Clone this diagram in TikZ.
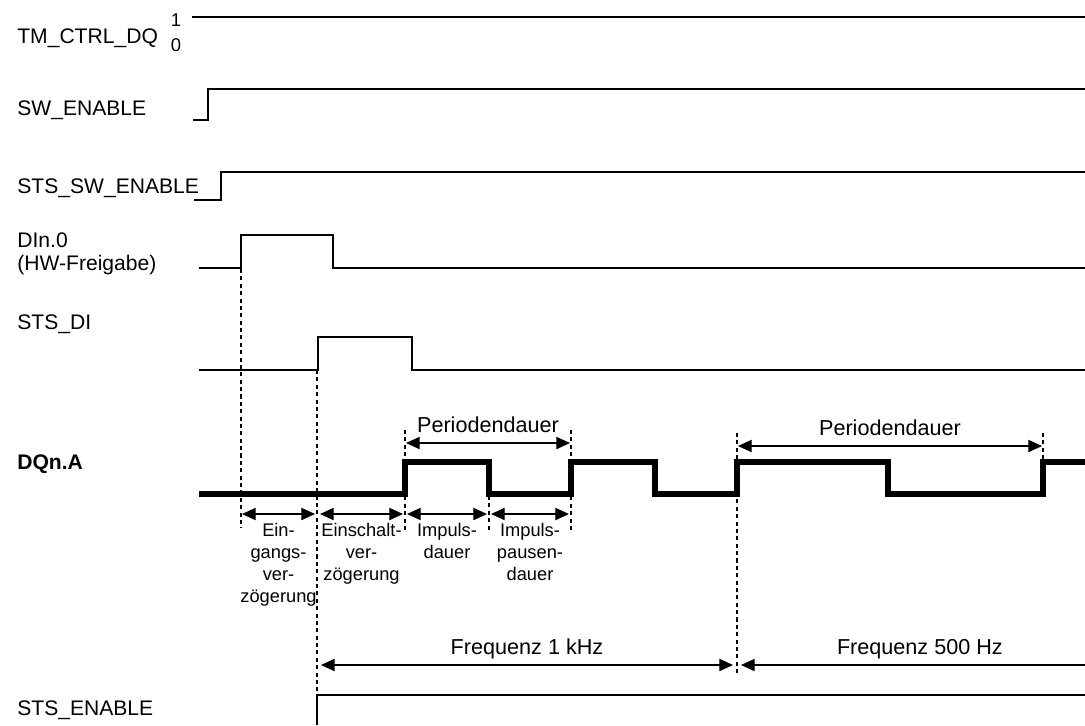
\documentclass[tikz,border=0pt]{standalone}
\usepackage{fontspec}
\setmainfont{Liberation Sans}
\usetikzlibrary{arrows.meta}

\begin{document}
\begin{tikzpicture}[x=0.02cm, y=-0.02cm, font=\fontsize{12}{13}\selectfont]
    \tikzstyle{signame} = [anchor=base west, inner sep=0pt, align=left]
    \tikzstyle{pegel} = [inner sep=0pt, font=\fontsize{10.5}{12}\selectfont]
    \tikzstyle{signal} = [line width=1.6pt]
    \tikzstyle{ausgang} = [line width=3pt]
    \tikzstyle{marke} = [line width=0.75pt, dash pattern=on 2.3pt off 1.9pt]
    \tikzstyle{masspfeil} = [line width=0.6pt,
        {Triangle[length=7.8pt,width=7pt]}-{Triangle[length=7.8pt,width=7pt]}]
    \tikzstyle{masstext} = [above=0.2cm, inner sep=0pt, text depth=0pt,
        font=\fontsize{12.3}{14}\selectfont]
    \tikzstyle{verzug} = [below=0.17cm, inner sep=0pt, align=center,
        font=\fontsize{10.4}{12.6}\selectfont]

    \useasboundingbox (0,0) rectangle (1085,725);

    % Signalnamen
    \node (ctrl) [signame] at (17,43) {TM\_CTRL\_DQ};
    \node (eins) [pegel] at (176,20) {1};
    \node (null) [pegel] at (176,45) {0};
    \node (sw) [signame] at (17,115) {SW\_ENABLE};
    \node (stssw) [signame] at (17,193) {STS\_SW\_ENABLE};
    \node (din) [signame] at (17,270) {DIn.0\\(HW-Freigabe)};
    \node (stsdi) [signame] at (17,329) {STS\_DI};
    \node (dqa) [signame, font=\fontsize{12}{13}\selectfont\bfseries] at (17,469) {DQn.A};
    \node (stsen) [signame] at (17,715) {STS\_ENABLE};

    % Verlaeufe
    \draw [signal] (192,17) -- (1085,17);
    \draw [signal] (193,120) -| (208,89) -- (1085,89);
    \draw [signal] (194,200) -| (221,172) -- (1085,172);
    \draw [signal] (199,268) -| (241,235) -| (333,268) -- (1085,268);
    \draw [signal] (199,370) -| (318,337) -| (412,370) -- (1085,370);
    \draw [ausgang] (199,494) -| (405,462) -| (489,494) -| (571,462) -| (655,494)
        -| (737,462) -| (888,494) -| (1043,462) -- (1085,462);
    \draw [signal] (317,725) |- (1085,695);

    % Zeitmarken
    \draw [marke] (241,269) -- (241,528);
    \draw [marke] (317,370) -- (317,695);
    \draw [marke] (405,430) -- (405,530);
    \draw [marke] (489,496) -- (489,530);
    \draw [marke] (571,430) -- (571,530);
    \draw [marke] (737,433) -- (737,675);
    \draw [marke] (1043,433) -- (1043,462);

    \coordinate (p1a) at (406,443);
    \coordinate (p1b) at (570,443);
    \coordinate (p2a) at (738,446);
    \coordinate (p2b) at (1042,446);
    \coordinate (e1a) at (242,514);
    \coordinate (e1b) at (315,514);
    \coordinate (e2a) at (320,514);
    \coordinate (e2b) at (403,514);
    \coordinate (e3a) at (407,514);
    \coordinate (e3b) at (487,514);
    \coordinate (e4a) at (491,514);
    \coordinate (e4b) at (569,514);
    \coordinate (f1a) at (321,665);
    \coordinate (f1b) at (733,665);
    \coordinate (f2a) at (741,665);
    \coordinate (f2b) at (1085,665);

    \draw [masspfeil] (p1a) -- node[masstext] (per1) {Periodendauer} (p1b);
    \draw [masspfeil] (p2a) -- node[masstext] (per2) {Periodendauer} (p2b);
    \draw [masspfeil] (e1a) -- node[verzug] (ein) {Ein-\\gangs-\\ver-\\zögerung} (e1b);
    \draw [masspfeil] (e2a) -- node[verzug] (esv) {Einschalt-\\ver-\\zögerung} (e2b);
    \draw [masspfeil] (e3a) -- node[verzug] (imp) {Impuls-\\dauer} (e3b);
    \draw [masspfeil] (e4a) -- node[verzug] (ipd) {Impuls-\\pausen-\\dauer} (e4b);
    \draw [masspfeil] (f1a) -- node[masstext] (fr1) {Frequenz 1 kHz} (f1b);
    \draw [line width=0.6pt, {Triangle[length=7.8pt,width=7pt]}-] (f2a)
        -- node[masstext, pos=0.52] (fr2) {Frequenz 500 Hz} (f2b);
\end{tikzpicture}
\end{document}
